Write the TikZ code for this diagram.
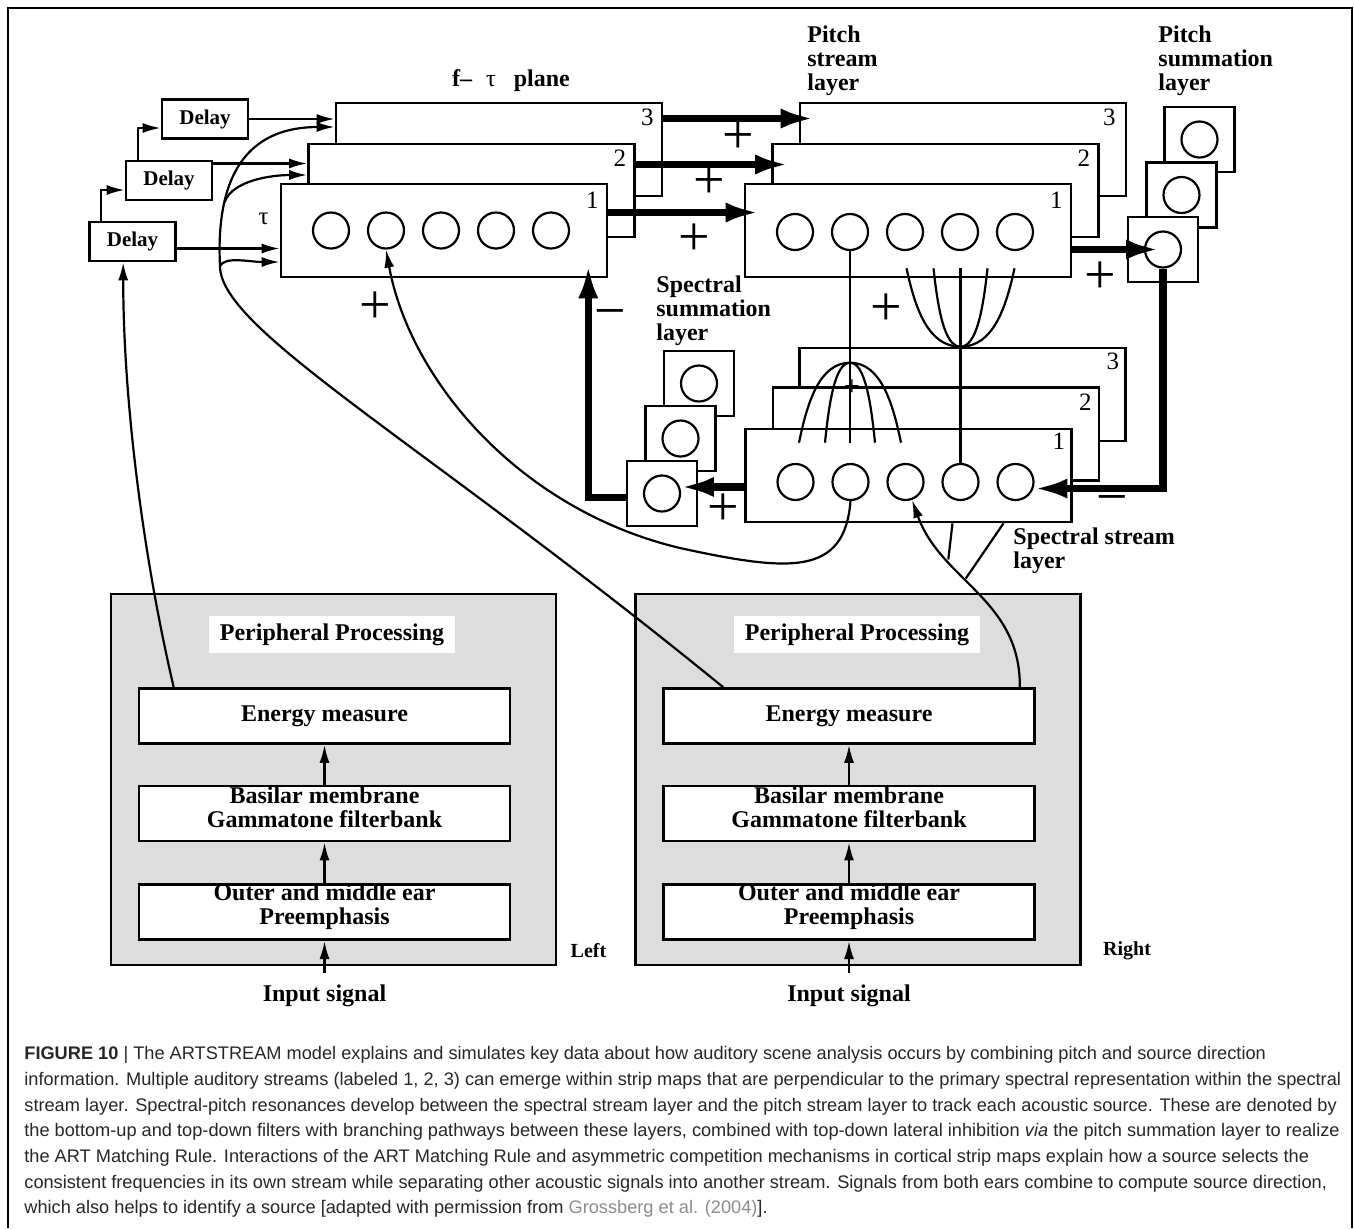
\documentclass[tikz,border=0pt]{standalone}
\usepackage{fontspec}
\setmainfont{Liberation Serif}
\newfontfamily\capfont{Liberation Sans}
\usepackage{xcolor}
\definecolor{periphgray}{RGB}{221,221,221}
\definecolor{linkgray}{RGB}{140,140,140}
\usepackage{tikz}
\usetikzlibrary{arrows.meta,positioning,calc}

\begin{document}
\begin{tikzpicture}[x=0.5pt, y=-0.5pt,
    delaybox/.style={draw, line width=1.3pt, minimum width=43pt, minimum height=19.5pt,
                     inner sep=0pt, font=\bfseries\fontsize{10.5}{11}\selectfont},
    strip/.style={draw, fill=white, line width=1.3pt, minimum width=163pt,
                  minimum height=46.5pt, inner sep=0pt},
    cell/.style={circle, draw, line width=1.1pt, minimum size=18pt, inner sep=0pt},
    sumbox/.style={draw, fill=white, line width=1.3pt, minimum width=35pt,
                   minimum height=32.5pt, inner sep=0pt},
    periph/.style={draw, fill=periphgray, line width=1.3pt, minimum width=222.5pt,
                   minimum height=185.5pt, inner sep=0pt},
    stage/.style={draw, fill=white, line width=1.3pt, minimum width=185.5pt,
                  minimum height=27.5pt, inner sep=0pt,
                  font=\bfseries\fontsize{12}{12}\selectfont},
    lbl/.style={font=\bfseries\fontsize{12}{12}\selectfont, align=left, inner sep=0pt},
    plabel/.style={lbl, fill=white, minimum width=123pt, minimum height=18.5pt},
    num/.style={font=\fontsize{12.5}{12.5}\selectfont, inner sep=0pt},
    sign/.style={font=\fontsize{28}{28}\selectfont, inner sep=0pt},
    negsign/.style={sign, text height=8pt, text depth=0pt, anchor=north},
    wire/.style={line width=1.1pt},
    arr/.style={-{Latex[length=9pt,width=5pt]}, line width=1.1pt},
    fat/.style={-{Latex[length=17pt,width=10pt]}, line width=3.6pt},
  ]
  \useasboundingbox (0,0) rectangle (1354,1228);
  \draw[line width=0.8pt] (8,1228) -- (8,8) -- (1352,8) -- (1352,1228);

  % delay chain
  \node[delaybox] (dl1) at (132.5,241.5) {Delay};
  \node[delaybox] (dl2) at (169,180.5) {Delay};
  \node[delaybox] (dl3) at (205,119) {Delay};
  \draw[arr] ($(dl1.north west)+(13,0)$) |- ($(dl2.west)+(0,9.5)$);
  \draw[arr] ($(dl2.north west)+(13,0)$) |- ($(dl3.west)+(0,9)$);

  % f-tau plane
  \node[lbl] (ftlbl) at (511,81) {f–\hspace{7pt}{\mdseries τ}\hspace{9pt}plane};
  \node[strip] (ft3) at (499,149.5) {};
  \node[strip] (ft2) at (471.5,190.5) {};
  \node[strip] (ft1) at (444,230.5) {};
  \node[num] (ft3n) at ($(ft3.north east)+(-16,16)$) {3};
  \node[num] (ft2n) at ($(ft2.north east)+(-16,16)$) {2};
  \node[num] (ft1n) at ($(ft1.north east)+(-16,18)$) {1};
  \node[num] (tau) at ($(ft1.west)+(-16,-12)$) {τ};
  \foreach \i in {1,...,5}
    \node[cell] (ftc\i) at ($(ft1.center)+(55*\i-168,0)$) {};
  \draw[arr] (dl3.east) -- (dl3.east -| ft3.west);
  \draw[arr] ($(dl2.east)+(0,-17)$) coordinate (d2o) -- (d2o -| ft2.west);
  \draw[arr] ($(dl1.east)+(0,7)$) coordinate (d1o) -- (d1o -| ft1.west);

  % pitch stream layer
  \node[lbl, anchor=north west] (pslbl) at (807,25) {Pitch\\stream\\layer};
  \node[strip] (ps3) at (963,149.5) {};
  \node[strip] (ps2) at (935.5,190.5) {};
  \node[strip] (ps1) at (908,230.5) {};
  \node[num] (ps3n) at ($(ps3.north east)+(-18,16)$) {3};
  \node[num] (ps2n) at ($(ps2.north east)+(-16,16)$) {2};
  \node[num] (ps1n) at ($(ps1.north east)+(-16,18)$) {1};
  \foreach \i in {1,...,5}
    \node[cell] (psc\i) at ($(ps1.center)+(55*\i-168,1.5)$) {};

  % pitch summation layer
  \node[lbl, anchor=north west] (pmlbl) at (1158,25) {Pitch\\summation\\layer};
  \node[sumbox] (pm3) at (1199.5,139.5) {};
  \node[cell] (pmc3) at (pm3) {};
  \node[sumbox] (pm2) at (1181.5,195) {};
  \node[cell] (pmc2) at (pm2) {};
  \node[sumbox] (pm1) at (1163,249.5) {};
  \node[cell] (pmc1) at (pm1) {};

  % spectral stream layer
  \node[strip] (ss3) at (962.5,394.5) {};
  \node[strip] (ss2) at (936,434) {};
  \node[strip] (ss1) at (908.5,475.5) {};
  \node[num] (ss3n) at ($(ss3.north east)+(-14,15)$) {3};
  \node[num] (ss2n) at ($(ss2.north east)+(-15,16)$) {2};
  \node[num] (ss1n) at ($(ss1.north east)+(-14,14)$) {1};
  \foreach \i in {1,...,5}
    \node[cell] (ssc\i) at ($(ss1.center)+(55*\i-168,6.5)$) {};
  \node[lbl, anchor=north west] (sslbl) at (1013,527) {Spectral stream\\layer};

  % spectral summation layer
  \node[lbl, anchor=north west] (smlbl) at (656,275) {Spectral\\summation\\layer};
  \node[sumbox] (sm3) at (699,383.5) {};
  \node[cell] (smc3) at (sm3) {};
  \node[sumbox] (sm2) at (680.5,438.5) {};
  \node[cell] (smc2) at (sm2) {};
  \node[sumbox] (sm1) at (662,493.5) {};
  \node[cell] (smc1) at (sm1) {};

  % filters between pitch and spectral layers
  \coordinate (sfan) at ($(psc2.south |- ss3.north)+(0,16)$);
  \draw[wire] (psc2.south) -- ($(psc2.south |- ss1.north)+(0,15)$);
  \foreach \dx in {-51,-25,25,51}
    \draw[wire] (sfan) .. controls +(0.6*\dx,0) and +(-0.16*\dx,-40)
      .. ($(psc2.south |- ss1.north)+(\dx,15)$);
  \coordinate (pfan) at (ssc4.north |- ss3.north);
  \draw[wire] (ssc4.north) -- ($(ssc4.north |- ps1.south)+(0,-10)$);
  \foreach \dx in {-54,-27,27,54}
    \draw[wire] (pfan) .. controls +(0.6*\dx,0) and +(-0.16*\dx,40)
      .. ($(ssc4.north |- ps1.south)+(\dx,-10)$);

  % thick pathways
  \draw[fat] ($(ft3.east)+(0,-31)$) -- ($(ps3.west)+(16,-31)$);
  \draw[fat] ($(ft2.east)+(0,-26)$) -- ($(ps2.west)+(18,-26)$);
  \draw[fat] ($(ft1.east)+(0,-18)$) -- ($(ps1.west)+(16,-18)$);
  \draw[fat, shorten >=1.5pt] (ps1.east |- pmc1) -- (pmc1.center);
  \draw[fat] (pmc1.south) |- (ssc5.-20);
  \draw[fat] (ss1.west |- smc1.20) -- (smc1.20);
  \draw[fat] ($(sm1.west)+(0,4)$) -| ($(ft1.south east)+(-20,-14)$);

  % signs
  \node[sign] (pl1) at (375,308) {+};
  \node[sign] (pl2) at (738,138) {+};
  \node[sign] (pl3) at (709,183) {+};
  \node[sign] (pl4) at (694,240) {+};
  \node[sign] (pl5) at (1100,278) {+};
  \node[sign] (pl6) at (886,310) {+};
  \node[sign] (pl7) at (723,510) {+};
  \node[font=\fontsize{14}{14}\selectfont, inner sep=0pt] (pl8) at (852,388) {+};
  \node[negsign] (mi1) at (610,313) {−};
  \node[negsign] (mi2) at (1112,499) {−};

  % peripheral processing
  \node[periph] (perL) at (333.5,779.5) {};
  \node[periph] (perR) at (858,779.5) {};
  \node[plabel] (ppL) at (332,634.5) {Peripheral Processing};
  \node[plabel] (ppR) at (857,634.5) {Peripheral Processing};
  \node[stage] (enL) at (324.5,716) {Energy measure};
  \node[stage, below=20pt of enL] (bmL) {};
  \node[stage, below=20.5pt of bmL] (oeL) {};
  \node[stage] (enR) at (849,716) {Energy measure};
  \node[stage, below=20pt of enR] (bmR) {};
  \node[stage, below=20.5pt of bmR] (oeR) {};
  \node[lbl, align=center] (bmLt) at ($(bmL)+(0,-6)$) {Basilar membrane\\Gammatone filterbank};
  \node[lbl, align=center] (oeLt) at ($(oeL)+(0,-5)$) {Outer and middle ear\\Preemphasis};
  \node[lbl, align=center] (bmRt) at ($(bmR)+(0,-6)$) {Basilar membrane\\Gammatone filterbank};
  \node[lbl, align=center] (oeRt) at ($(oeR)+(0,-5)$) {Outer and middle ear\\Preemphasis};
  \node[lbl] (inL) at (324.5,996) {Input signal};
  \node[lbl] (inR) at (849,996) {Input signal};
  \node[lbl, font=\bfseries\fontsize{10}{10}\selectfont, anchor=west] (sideL)
    at ($(perL.south east)+(13,-16)$) {Left};
  \node[lbl, font=\bfseries\fontsize{10}{10}\selectfont, anchor=west] (sideR)
    at ($(perR.south east)+(21,-16)$) {Right};
  \draw[arr] (bmL.north) -- (enL.south);
  \draw[arr] (oeL.north) -- (bmL.south);
  \draw[arr] ([yshift=6pt]inL.north) -- (oeL.south);
  \draw[arr] (bmR.north) -- (enR.south);
  \draw[arr] (oeR.north) -- (bmR.south);
  \draw[arr] ([yshift=6pt]inR.north) -- (oeR.south);

  % left ear to delays
  \draw[arr] ($(enL.north west)+(36,0)$) .. controls +(-30,-128) and +(0,140)
    .. ($(dl1.south west)+(35,0)$);
  % right ear to f-tau plane
  \draw[wire] ($(enR.north west)+(61,0)$) coordinate (rb0)
    .. controls +(-304,-248) and +(0,64) .. (220,266) coordinate (jB);
  \draw[arr] (jB) .. controls +(5,-10) and +(-30,0) .. ($(ft1.west)+(0,31.5)$);
  \draw[arr] (jB) .. controls +(-5,-100) and +(-80,0) .. ($(ft3.west)+(0,-22.5)$)
    coordinate[pos=0.25] (jB2);
  \draw[arr] (jB2) .. controls +(8,-22) and +(-35,0) .. ($(ft2.west)+(0,-15.5)$);
  % right ear to spectral stream layer
  \draw[arr] ($(enR.north east)+(-16,0)$) .. controls +(1,-88) and +(29,81)
    .. (ssc3.-70) coordinate[pos=0.7] (jc1) coordinate[pos=0.58] (jc2);
  \draw[wire] ($(ss1.south)+(44,0)$) -- (jc1);
  \draw[wire] ($(ss1.south)+(95,0)$) -- (jc2);
  % spectral stream to f-tau plane
  \draw[arr] (ssc2.south) .. controls +(-6,75) and +(110,24) .. (680,548) coordinate (bA)
    .. controls +(-160,-38) and +(24,131) .. (ftc2.south);

  % caption
  \node[anchor=north west, align=left, inner sep=0pt, text=black!85,
        font=\capfont\fontsize{9.1}{12.85}\selectfont] (cap) at (24,1046) {%
    {\bfseries FIGURE 10} | The ARTSTREAM model explains and simulates key data about how auditory scene analysis occurs by combining pitch and source direction\\
    information. Multiple auditory streams (labeled 1, 2, 3) can emerge within strip maps that are perpendicular to the primary spectral representation within the spectral\\
    stream layer. Spectral-pitch resonances develop between the spectral stream layer and the pitch stream layer to track each acoustic source. These are denoted by\\
    the bottom-up and top-down filters with branching pathways between these layers, combined with top-down lateral inhibition \textit{via} the pitch summation layer to realize\\
    the ART Matching Rule. Interactions of the ART Matching Rule and asymmetric competition mechanisms in cortical strip maps explain how a source selects the\\
    consistent frequencies in its own stream while separating other acoustic signals into another stream. Signals from both ears combine to compute source direction,\\
    which also helps to identify a source [adapted with permission from \textcolor{linkgray}{Grossberg et al. (2004)}].};
\end{tikzpicture}
\end{document}
